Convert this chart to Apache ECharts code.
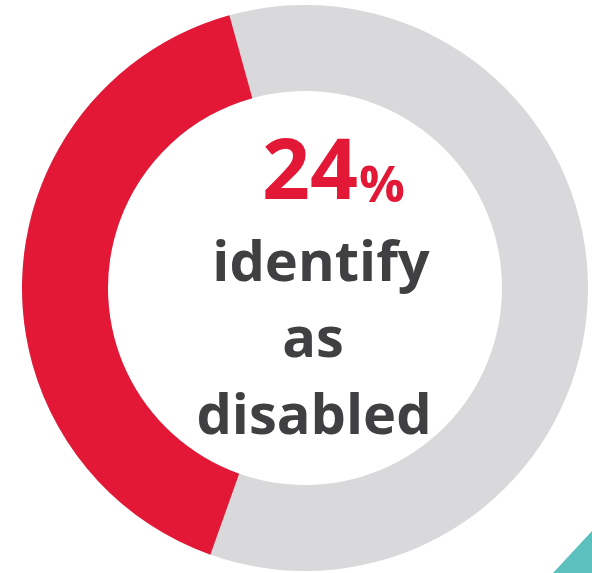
<!DOCTYPE html>
<html>
<head>
<meta charset="utf-8">
<title>Disability share</title>
<script src="https://cdn.jsdelivr.net/npm/echarts@6/dist/echarts.min.js"></script>
<style>
  html, body { margin: 0; padding: 0; background: #ffffff; }
  #chart { width: 592px; height: 573px; }
</style>
</head>
<body>
<div id="chart"></div>
<script>
// Share of respondents who identify as disabled (percent)
const categories = ['identify as disabled'];
const shareValues = [24];
const headline = '24';
const headlineUnit = '%';
const captionLines = ['identify', 'as', 'disabled'];

const RED = '#e31837';
const GREY = '#d9d9db';
const INK = '#404042';
const TEAL = '#5bc0be';
const FONT = '"Open Sans", "Noto Sans", sans-serif';

const chart = echarts.init(document.getElementById('chart'), null, { renderer: 'canvas' });

// Caption lines below the headline figure
const captionPos = [
  { x: 321, y: 265 },
  { x: 313, y: 341 },
  { x: 314, y: 418 }
];

const graphics = [
  {
    type: 'text', x: 358, y: 175, silent: true,
    style: {
      text: headline, fill: RED, font: 'bold 84px ' + FONT,
      textAlign: 'right', textVerticalAlign: 'middle'
    }
  },
  {
    type: 'text', x: 359, y: 187, silent: true,
    style: {
      text: headlineUnit, fill: RED, font: 'bold 51px ' + FONT,
      textAlign: 'left', textVerticalAlign: 'middle'
    }
  },
  // corner accent
  {
    type: 'polygon', silent: true,
    shape: { points: [[553, 573], [592, 531], [592, 573]] },
    style: { fill: TEAL }
  }
];
captionLines.forEach((line, i) => {
  graphics.push({
    type: 'text', x: captionPos[i].x, y: captionPos[i].y, silent: true,
    style: {
      text: line, fill: INK, font: 'bold 56px ' + FONT,
      textAlign: 'center', textVerticalAlign: 'middle'
    }
  });
});

chart.setOption({
  backgroundColor: '#ffffff',
  animation: false,
  polar: { center: [305, 288], radius: [197, 283] },
  angleAxis: {
    type: 'value', min: 0, max: 59.6,
    startAngle: 105.5, clockwise: false,
    show: false
  },
  radiusAxis: {
    type: 'category', data: categories, show: false
  },
  series: [{
    type: 'bar',
    coordinateSystem: 'polar',
    data: shareValues,
    barCategoryGap: '0%',
    showBackground: true,
    backgroundStyle: { color: GREY },
    itemStyle: { color: RED },
    silent: true
  }],
  graphic: graphics
});
</script>
</body>
</html>
